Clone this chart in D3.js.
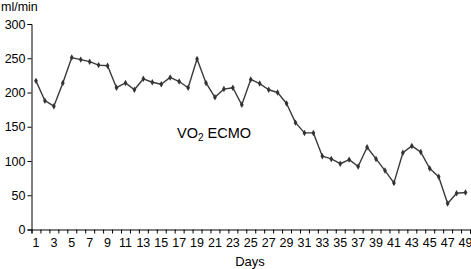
<!DOCTYPE html>
<html><head><meta charset="utf-8">
<script src="https://cdn.jsdelivr.net/npm/d3@7"></script>
<style>body{margin:0;background:#fff}svg{display:block;font-family:"Liberation Sans",Arial,sans-serif}</style>
</head><body>
<svg id="c" width="471" height="269"></svg>
<script>
const days = d3.range(1, 50);
const vo2 = [217,188,180,214,251,248,245,240,239,207,214,204,220,215,212,222,216,207,249,214,193,205,207,182,219,213,204,200,184,156,141,141,107,103,96,102,92,120,103,86,68,112,122,113,89,77,38,53,54];
const yTicks = [0,50,100,150,200,250,300];
const xTickLabels = days.filter(d => d % 2 === 1);
const yUnit = "ml/min";
const xTitle = "Days";

const svg = d3.select("#c");
const mLeft = 31.5, mRight = 470, mTop = 24, mBottom = 229.5;

const x = d3.scaleBand().domain(days).range([mLeft, mRight]).padding(0);
const xb = d3.scaleLinear().domain([0.5, 49.5]).range([mLeft, mRight]);
const y = d3.scaleLinear().domain([0, 300]).range([mBottom, mTop]);

// y axis
const ya = svg.append("g").attr("transform", `translate(${mLeft},0)`)
  .call(d3.axisLeft(y).tickValues(yTicks).tickSize(4).tickPadding(2));
ya.select(".domain").attr("stroke", "#000");
ya.selectAll("text").attr("font-size", 12.5).attr("fill", "#000").attr("font-family", "Liberation Sans, Arial, sans-serif");

// x axis boundary ticks
const xa = svg.append("g").attr("transform", `translate(0,${mBottom})`)
  .call(d3.axisBottom(xb).tickValues(d3.range(0.5, 50, 1)).tickSize(4).tickFormat(""));
xa.select(".domain").attr("stroke", "#000");
// x labels
const xl = svg.append("g").attr("transform", `translate(0,${mBottom})`)
  .call(d3.axisBottom(x).tickValues(xTickLabels).tickSize(0).tickPadding(9));
xl.select(".domain").remove();
xl.selectAll("text").attr("font-size", 12.5).attr("fill", "#000").attr("font-family", "Liberation Sans, Arial, sans-serif");

// line
const cx = d => x(d) + x.bandwidth() / 2;
const line = d3.line().x((v, i) => cx(days[i])).y(v => y(v));
svg.append("path").datum(vo2).attr("d", line)
  .attr("fill", "none").attr("stroke", "#3a3a3a").attr("stroke-width", 1.4).attr("stroke-linejoin", "round");

svg.append("g").selectAll("path").data(vo2).join("path")
  .attr("transform", (v, i) => `translate(${cx(days[i])},${y(v)})`)
  .attr("d", d3.symbol().type(d3.symbolDiamond).size(12))
  .attr("fill", "#333");

// texts
svg.append("text").attr("x", 1).attr("y", 11).attr("font-size", 12.5).attr("fill", "#000").text(yUnit);
svg.append("text").attr("x", 250).attr("y", 266).attr("text-anchor", "middle").attr("font-size", 13).attr("fill", "#000").text(xTitle);
const t = svg.append("text").attr("x", 177).attr("y", 138).attr("font-size", 14.5).attr("fill", "#000");
t.append("tspan").text("VO");
t.append("tspan").attr("font-size", 10).attr("dy", 3).text("2");
t.append("tspan").attr("dy", -3).text(" ECMO");
</script>
</body></html>
